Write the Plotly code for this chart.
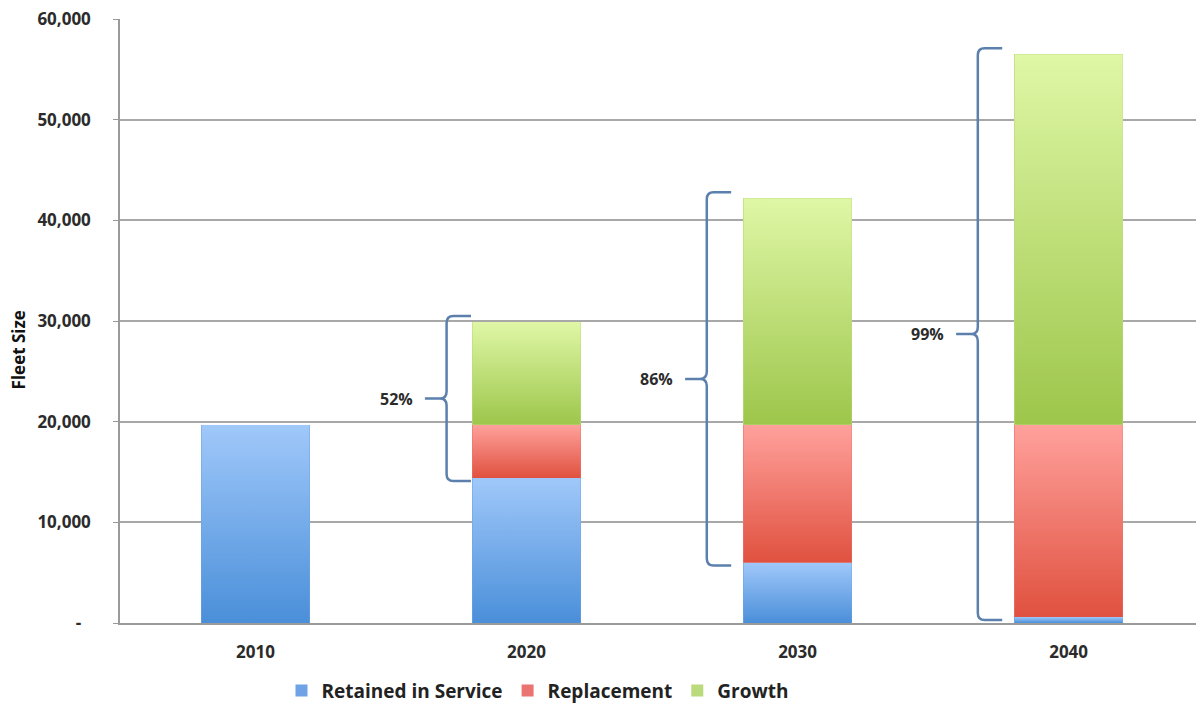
import base64
import plotly.graph_objects as go

# Fleet size by year, split into three components
years = ["2010", "2020", "2030", "2040"]
retained = [19700, 14400, 6000, 600]
replacement = [0, 5300, 13700, 19100]
growth = [0, 10200, 22500, 36800]

# Share of the fleet that is new (replacement + growth), shown beside braces
brace_years = ["2020", "2030", "2040"]
brace_labels = ["52%", "86%", "99%"]

y_ticks = [0, 10000, 20000, 30000, 40000, 50000, 60000]
y_tick_text = ["-\u2007", "10,000", "20,000", "30,000", "40,000", "50,000", "60,000"]

FONT = "Open Sans"
TEXT = "#2b2b2b"
BAR_W = 0.40

series = [
    ("Retained in Service", retained, "#6fa3e6", ("#a0c8fa", "#4a8fd9")),
    ("Replacement", replacement, "#ea7470", ("#ffa19c", "#e0513f")),
    ("Growth", growth, "#bada7c", ("#dff7a6", "#9dc64b")),
]

xpos = list(range(len(years)))
fig = go.Figure()
for name, vals, solid, _ in series:
    fig.add_trace(go.Bar(
        x=xpos, y=vals, name=name, width=BAR_W,
        marker=dict(color=solid, line=dict(width=0)),
    ))


def gradient_uri(top, bottom):
    svg = (
        '<svg xmlns="http://www.w3.org/2000/svg" width="10" height="100" '
        'viewBox="0 0 10 100" preserveAspectRatio="none">'
        '<defs><linearGradient id="g" x1="0" y1="0" x2="0" y2="1">'
        f'<stop offset="0" stop-color="{top}"/>'
        f'<stop offset="1" stop-color="{bottom}"/>'
        '</linearGradient></defs>'
        '<rect width="10" height="100" fill="url(#g)"/></svg>'
    )
    return "data:image/svg+xml;base64," + base64.b64encode(svg.encode()).decode()


# Vertical gradient overlay for every stacked segment
images = []
base = [0] * len(years)
for name, vals, _, (top, bottom) in series:
    uri = gradient_uri(top, bottom)
    for i, v in enumerate(vals):
        if v > 0:
            images.append(dict(
                source=uri, xref="x", yref="y",
                x=xpos[i] - BAR_W / 2, y=base[i] + v,
                sizex=BAR_W, sizey=v,
                xanchor="left", yanchor="top",
                sizing="stretch", layer="above",
            ))
        base[i] += v
totals = base

# Curly braces spanning the new part of each fleet
shapes = []
annotations = []
BRACE = "#5b80ad"
brace_shift = [0.04, 0.0, 0.0]   # horizontal nudge per brace, category units
dx, hook, tick, lab = -0.335, -0.245, -0.415, -0.52
rx, ry = 0.025, 700
for (yr, text), s in zip(zip(brace_years, brace_labels), brace_shift):
    i = years.index(yr)
    lo = retained[i] - 300
    hi = totals[i] + 600
    mid = (lo + hi) / 2
    x = xpos[i] + dx + s
    xh = xpos[i] + hook + s
    xt = xpos[i] + tick + s
    path = (
        f"M {xh},{hi} L {x + rx},{hi} Q {x},{hi} {x},{hi - ry} "
        f"L {x},{mid + ry} Q {x},{mid} {x - rx},{mid} L {xt},{mid} "
        f"M {x - rx},{mid} Q {x},{mid} {x},{mid - ry} "
        f"L {x},{lo + ry} Q {x},{lo} {x + rx},{lo} L {xh},{lo}"
    )
    shapes.append(dict(type="path", path=path, xref="x", yref="y",
                       line=dict(color=BRACE, width=2.5), layer="above"))
    annotations.append(dict(
        x=xpos[i] + lab + s, y=mid, xref="x", yref="y", text=f"<b>{text}</b>",
        showarrow=False, font=dict(family=FONT, size=16, color=TEXT),
        xanchor="center", yanchor="middle",
    ))

annotations.append(dict(
    x=-0.106, y=0.452, xref="paper", yref="paper", text="<b>Fleet Size</b>",
    textangle=-90, showarrow=False, font=dict(family=FONT, size=17, color="#111"),
))

fig.update_layout(
    barmode="stack",
    width=1196, height=704,
    margin=dict(l=120, r=0, t=19, b=81, autoexpand=False),
    paper_bgcolor="white", plot_bgcolor="white",
    font=dict(family=FONT, color=TEXT),
    images=images, shapes=shapes, annotations=annotations,
    legend=dict(
        orientation="h", x=0.388, y=-0.112, xanchor="center", yanchor="middle",
        font=dict(family=FONT, size=19, color="#222", weight="bold"),
        itemwidth=30, traceorder="normal",
    ),
    xaxis=dict(
        range=[-0.5, 3.47], tickvals=xpos, ticktext=years,
        showgrid=False, zeroline=False,
        showline=True, linecolor="#9a9a9a", linewidth=1.5,
        ticks="", ticklabelstandoff=13,
        tickfont=dict(family=FONT, size=17, color=TEXT, weight="bold"),
    ),
    yaxis=dict(
        range=[0, 60000], tickvals=y_ticks, ticktext=y_tick_text,
        showgrid=True, gridcolor="#a8a8a8", gridwidth=1.5, zeroline=False,
        showline=True, linecolor="#9a9a9a", linewidth=1.5,
        ticks="outside", ticklen=5, tickcolor="#9a9a9a",
        ticklabelstandoff=19,
        tickfont=dict(family=FONT, size=17, color=TEXT, weight="bold"),
    ),
)

fig.write_html("out.html")
